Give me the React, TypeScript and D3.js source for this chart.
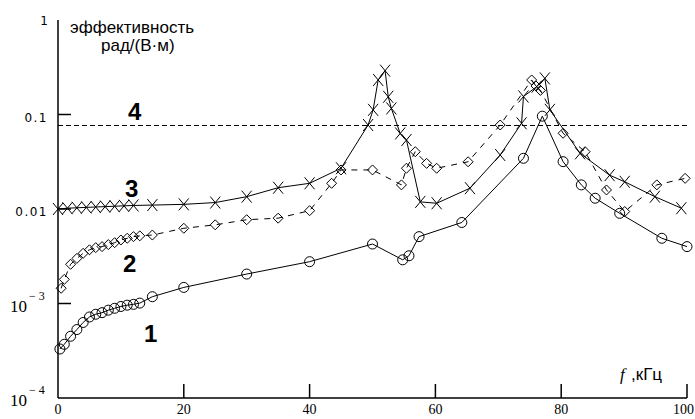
import React from 'react';
import * as d3 from 'd3';

// curve 1 (circles, solid)
const f1 = [0.3, 1, 2, 3, 4, 5, 6, 7, 8, 9, 10, 11, 12, 13, 15, 20, 30, 40, 50, 54.8, 55.8, 57.4, 64.2, 74, 77, 80.3, 83.2, 85.4, 89.3, 96, 100];
const v1 = [0.00033, 0.00037, 0.00045, 0.00053, 0.00063, 0.00072, 0.00077, 0.0008, 0.00085, 0.00089, 0.00093, 0.00096, 0.00098, 0.00101, 0.00118, 0.00148, 0.00205, 0.00277, 0.00426, 0.0029, 0.0032, 0.0051, 0.0072, 0.0344, 0.096, 0.0317, 0.018, 0.013, 0.009, 0.0049, 0.004];

// curve 2 (diamonds, dashed)
const f2 = [0.5, 1, 2, 3, 4, 5, 6, 7, 8, 9, 10, 11, 12, 13, 15, 20, 25, 30, 35, 40, 43.5, 45, 50, 54.6, 55.4, 56.8, 58.6, 60.2, 65.2, 70.3, 75.3, 76, 76.7, 80.3, 83.8, 87.2, 90.1, 95.2, 99.7];
const v2 = [0.00145, 0.0018, 0.0026, 0.003, 0.0034, 0.0037, 0.0039, 0.004, 0.0042, 0.0044, 0.0047, 0.0049, 0.0051, 0.0052, 0.0053, 0.00625, 0.0068, 0.0077, 0.008, 0.0096, 0.0187, 0.0259, 0.0259, 0.018, 0.027, 0.0404, 0.0304, 0.027, 0.0316, 0.0774, 0.232, 0.2, 0.18, 0.0633, 0.0404, 0.0159, 0.0094, 0.018, 0.0211];

// curve 3 (crosses, solid)
const f3 = [0, 1.5, 3, 4.5, 6, 7.5, 9, 10.5, 12, 15, 20, 25, 30, 35, 40, 45, 49.3, 50.1, 50.9, 52, 52.5, 53, 54.4, 55.4, 57.6, 60.2, 65.5, 70.3, 73.7, 74, 76.1, 77.4, 78.2, 83, 87.7, 90.1, 94.9, 99.1];
const v3 = [0.01, 0.0102, 0.0103, 0.0104, 0.0105, 0.0106, 0.0107, 0.0108, 0.0109, 0.011, 0.0112, 0.0117, 0.0135, 0.0168, 0.0187, 0.027, 0.0774, 0.112, 0.232, 0.291, 0.154, 0.116, 0.063, 0.0537, 0.0119, 0.0115, 0.0166, 0.0373, 0.0807, 0.155, 0.197, 0.241, 0.112, 0.0388, 0.0228, 0.0194, 0.0135, 0.0102];

// curve 4 (dashed level)
const level4 = 0.0765;

const xTicks = [0, 20, 40, 60, 80, 100];
const yTicks = [1, 0.1, 0.01, 0.001, 0.0001];
const yTickText = ['1', '0.1', '0.01', '10', '10'];
const yTickExp = ['', '', '', '\u2212 3', '\u2212 4'];

const W = 695;
const H = 419;

const x = d3.scaleLinear().domain([0, 100]).range([58, 687]);
const y = d3.scaleLog().domain([1e-4, 1]).range([398, 20]);

const zip = (fs: number[], vs: number[]) => fs.map((f, i) => [f, vs[i]] as [number, number]);

const line = d3.line<[number, number]>()
    .x(d => x(d[0]))
    .y(d => y(d[1]));

const serif = '"Liberation Serif", "DejaVu Serif", serif';
const sans = '"Liberation Sans", Arial, sans-serif';
const tickSans = '"DejaVu Sans", sans-serif';

function App() {
    const d1 = zip(f1, v1);
    const d2 = zip(f2, v2);
    const d3pts = zip(f3, v3);

    return (
        <svg width={W} height={H} style={{ position: 'absolute', left: 0, top: 0, background: '#fff' }}>
            {/* level 4 */}
            <line x1={x(0)} x2={x(100)} y1={y(level4)} y2={y(level4)}
                  stroke="#000" strokeWidth={1} strokeDasharray="5,3" />

            {/* curves */}
            <path d={line(d1) || ''} fill="none" stroke="#000" strokeWidth={1} />
            <path d={line(d2) || ''} fill="none" stroke="#000" strokeWidth={1} strokeDasharray="6,6" />
            <path d={line(d3pts) || ''} fill="none" stroke="#000" strokeWidth={1} />

            {d1.map((d, i) => (
                <circle key={'c' + i} cx={x(d[0])} cy={y(d[1])} r={5} fill="none" stroke="#000" strokeWidth={1} />
            ))}
            {d2.map((d, i) => {
                const cx = x(d[0]), cy = y(d[1]);
                return <path key={'d' + i} d={`M${cx - 5},${cy}L${cx},${cy - 5}L${cx + 5},${cy}L${cx},${cy + 5}Z`}
                             fill="none" stroke="#000" strokeWidth={1} />;
            })}
            {d3pts.map((d, i) => {
                const cx = x(d[0]), cy = y(d[1]);
                return <path key={'x' + i} d={`M${cx - 5},${cy - 6}L${cx + 5},${cy + 6}M${cx - 5},${cy + 6}L${cx + 5},${cy - 6}`}
                             fill="none" stroke="#000" strokeWidth={1} />;
            })}

            {/* axes */}
            <line x1={x(0)} x2={x(0)} y1={y(1)} y2={y(1e-4)} stroke="#000" strokeWidth={1.5} />
            <line x1={x(0)} x2={x(100)} y1={y(1e-4)} y2={y(1e-4)} stroke="#000" strokeWidth={1.5} />
            {yTicks.filter(t => t < 1 && t > 1e-4).map(t => (
                <line key={'yt' + t} x1={x(0)} x2={x(0) + 13} y1={y(t)} y2={y(t)} stroke="#000" strokeWidth={1.5} />
            ))}
            {xTicks.filter(t => t > 0).map(t => (
                <line key={'xt' + t} x1={x(t)} x2={x(t)} y1={y(1e-4)} y2={y(1e-4) - 14} stroke="#000" strokeWidth={1.5} />
            ))}

            {/* tick labels */}
            {xTicks.map(t => (
                <text key={'xl' + t} x={t === 100 ? 694 : x(t)} y={414} textAnchor={t === 100 ? 'end' : 'middle'}
                      fontFamily={serif} fontSize={14}>{t}</text>
            ))}
            {yTicks.map((t, i) => yTickExp[i] ? (
                <g key={'yl' + t}>
                    <text x={27} y={y(t) + 8} textAnchor="end" fontFamily={serif} fontSize={17}>{yTickText[i]}</text>
                    <text x={29} y={y(t) - 4} fontFamily={serif} fontSize={12}>{yTickExp[i]}</text>
                </g>
            ) : (
                <text key={'yl' + t} x={48} y={y(t) + (t === 1 ? 5 : 7)} textAnchor="end" fontFamily={tickSans}
                      fontSize={12} letterSpacing={t === 1 ? 0 : 1.5}>{yTickText[i]}</text>
            ))}

            {/* axis titles */}
            <text x={70} y={33} fontFamily={sans} fontSize={17}>эффективность</text>
            <text x={101} y={51} fontFamily={sans} fontSize={17}>рад/(В·м)</text>
            <text x={620} y={380} fontFamily={serif} fontStyle="italic" fontSize={17}>f</text>
            <text x={631} y={380} fontFamily={sans} fontSize={17}>,кГц</text>

            {/* curve numbers */}
            <text x={128} y={120} fontFamily={sans} fontWeight="bold" fontSize={24}>4</text>
            <text x={125} y={197} fontFamily={sans} fontWeight="bold" fontSize={24}>3</text>
            <text x={123} y={272} fontFamily={sans} fontWeight="bold" fontSize={24}>2</text>
            <text x={144} y={342} fontFamily={sans} fontWeight="bold" fontSize={24}>1</text>
        </svg>
    );
}

export default App;
